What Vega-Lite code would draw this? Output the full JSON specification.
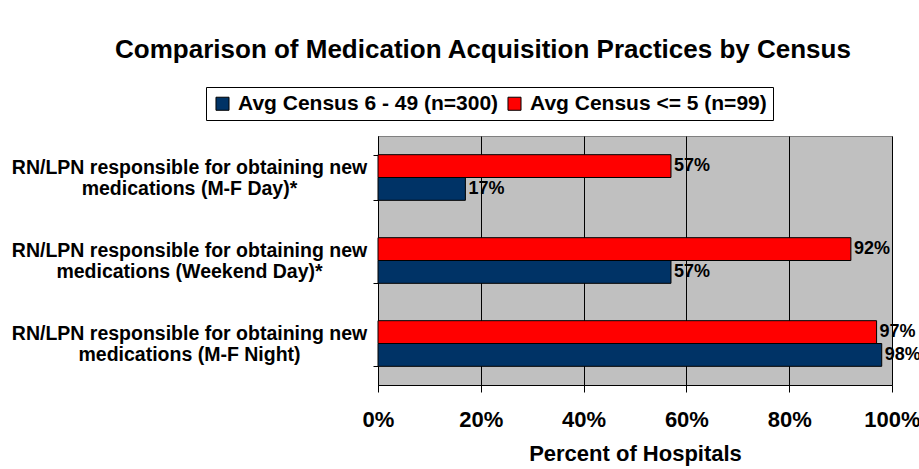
{
  "$schema": "https://vega.github.io/schema/vega-lite/v6.json",
  "width": 514,
  "height": 249,
  "autosize": {"type": "none"},
  "padding": {"left": 378, "top": 136, "right": 27, "bottom": 84},
  "background": "white",
  "title": {
    "text": "Comparison of Medication Acquisition Practices by Census",
    "anchor": "middle",
    "frame": "group",
    "dx": -152,
    "offset": 24,
    "font": "Liberation Sans",
    "fontSize": 26,
    "fontWeight": "bold",
    "color": "#000000"
  },
  "data": {
    "values": [
      {"practice": "RN/LPN responsible for obtaining new medications (M-F Day)*", "group": "Avg Census <= 5 (n=99)", "pct": 0.57},
      {"practice": "RN/LPN responsible for obtaining new medications (M-F Day)*", "group": "Avg Census 6 - 49 (n=300)", "pct": 0.17},
      {"practice": "RN/LPN responsible for obtaining new medications (Weekend Day)*", "group": "Avg Census <= 5 (n=99)", "pct": 0.92},
      {"practice": "RN/LPN responsible for obtaining new medications (Weekend Day)*", "group": "Avg Census 6 - 49 (n=300)", "pct": 0.57},
      {"practice": "RN/LPN responsible for obtaining new medications (M-F Night)", "group": "Avg Census <= 5 (n=99)", "pct": 0.97},
      {"practice": "RN/LPN responsible for obtaining new medications (M-F Night)", "group": "Avg Census 6 - 49 (n=300)", "pct": 0.98}
    ]
  },
  "encoding": {
    "y": {
      "field": "practice",
      "type": "nominal",
      "sort": [
        "RN/LPN responsible for obtaining new medications (M-F Day)*",
        "RN/LPN responsible for obtaining new medications (Weekend Day)*",
        "RN/LPN responsible for obtaining new medications (M-F Night)"
      ],
      "scale": {"paddingInner": 0.45, "paddingOuter": 0.225},
      "axis": {
        "title": null,
        "domain": true,
        "domainColor": "#000000",
        "ticks": true,
        "tickBand": "extent",
        "tickSize": 5,
        "tickColor": "#000000",
        "labelExpr": "[slice(datum.label, 0, 36), slice(datum.label, 37)]",
        "labelAlign": "center",
        "labelPadding": 184,
        "labelOffset": -10,
        "labelLimit": 0,
        "labelFont": "Liberation Sans",
        "labelFontSize": 19.5,
        "labelFontWeight": "bold",
        "labelColor": "#000000",
        "labelLineHeight": 21
      }
    },
    "yOffset": {
      "field": "group",
      "type": "nominal",
      "sort": ["Avg Census <= 5 (n=99)", "Avg Census 6 - 49 (n=300)"],
      "scale": {"paddingInner": 0, "paddingOuter": 0}
    },
    "x": {
      "field": "pct",
      "type": "quantitative",
      "scale": {"domain": [0, 1], "nice": false},
      "axis": {
        "title": "Percent of Hospitals",
        "values": [0, 0.2, 0.4, 0.6, 0.8, 1],
        "format": ".0%",
        "grid": true,
        "gridColor": "#000000",
        "gridOpacity": 1,
        "gridWidth": 1,
        "domainColor": "#000000",
        "tickColor": "#000000",
        "tickSize": 7,
        "labelPadding": 17,
        "labelFont": "Liberation Sans",
        "labelFontSize": 22,
        "labelFontWeight": "bold",
        "labelColor": "#000000",
        "labelFlush": false,
        "labelOverlap": false,
        "titleFont": "Liberation Sans",
        "titleFontSize": 22,
        "titleFontWeight": "bold",
        "titleColor": "#000000",
        "titlePadding": 13
      }
    }
  },
  "layer": [
    {
      "mark": {"type": "bar", "stroke": "#000000", "strokeWidth": 1},
      "encoding": {
        "color": {
          "field": "group",
          "type": "nominal",
          "scale": {
            "domain": ["Avg Census 6 - 49 (n=300)", "Avg Census <= 5 (n=99)"],
            "range": ["#003366", "#FF0000"]
          },
          "legend": {
            "title": null,
            "orient": "none",
            "direction": "horizontal",
            "legendX": -172,
            "legendY": -49,
            "symbolType": "square",
            "symbolSize": 170,
            "symbolStrokeColor": "#000000",
            "symbolStrokeWidth": 1,
            "labelFont": "Liberation Sans",
            "labelFontSize": 21,
            "labelFontWeight": "bold",
            "labelColor": "#000000",
            "labelLimit": 0,
            "labelOffset": 5,
            "columnPadding": 5,
            "strokeColor": "#000000",
            "padding": 6,
            "fillColor": "#FFFFFF"
          }
        }
      }
    },
    {
      "mark": {
        "type": "text",
        "align": "left",
        "baseline": "middle",
        "dx": 3,
        "font": "Liberation Sans",
        "fontSize": 18,
        "fontWeight": "bold",
        "color": "#000000"
      },
      "encoding": {
        "text": {"field": "pct", "type": "quantitative", "format": ".0%"}
      }
    }
  ],
  "config": {
    "view": {"fill": "#C0C0C0", "stroke": "#808080", "strokeWidth": 1}
  }
}
